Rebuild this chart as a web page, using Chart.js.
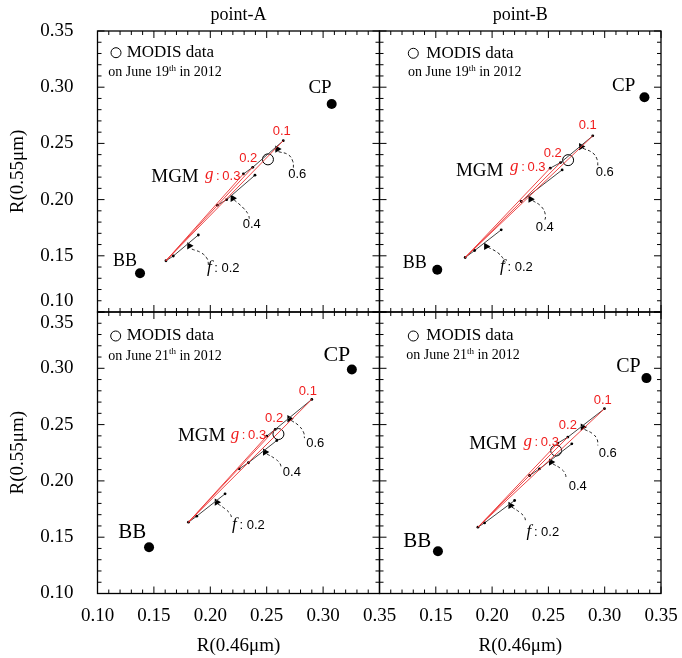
<!DOCTYPE html>
<html>
<head>
<meta charset="utf-8">
<script src="https://cdn.jsdelivr.net/npm/chart.js@4.4.1/dist/chart.umd.min.js"></script>
<style>
  html, body { margin: 0; padding: 0; background: #fff; }
  #wrap { position: relative; width: 682px; height: 658px; }
  #wrap canvas { position: absolute; left: 0; top: 0; width: 682px; height: 658px; }
</style>
</head>
<body>
<div id="wrap">
  <canvas id="p0" width="682" height="658"></canvas>
  <canvas id="p1" width="682" height="658"></canvas>
  <canvas id="p2" width="682" height="658"></canvas>
  <canvas id="p3" width="682" height="658"></canvas>
</div>
<script>
// panels: 0 = point-A 19th, 1 = point-B 19th, 2 = point-A 21th, 3 = point-B 21th
const panelNames = ['point-A', 'point-B', 'point-A', 'point-B'];
const obsDays = ['19', '19', '21', '21'];
const axisTicks = [0.10, 0.15, 0.20, 0.25, 0.30, 0.35];

const bbPoints = [[0.1377, 0.1344], [0.1513, 0.1376], [0.1457, 0.1411], [0.1519, 0.1376]];
const cpPoints = [[0.3076, 0.2851], [0.3353, 0.2911], [0.3255, 0.2990], [0.3371, 0.2913]];
const modisPoints = [[0.2511, 0.2358], [0.2675, 0.2351], [0.2604, 0.2416], [0.2569, 0.2270]];

// MGM model lines: red = constant g, start point shared
const mgmStart = [[0.1607, 0.1456], [0.1761, 0.1485], [0.1806, 0.1633], [0.1874, 0.1589]];
const gEnd01 = [[0.2647, 0.2524], [0.2894, 0.2567], [0.2900, 0.2724], [0.2998, 0.2641]];
const gEnd02 = [[0.2376, 0.2287], [0.2608, 0.2329], [0.2575, 0.2457], [0.2673, 0.2389]];
const gEnd03 = [[0.2293, 0.2228], [0.2516, 0.2280], [0.2501, 0.2398], [0.2584, 0.2336]];

// grey segments (constant f)
const fLineMid = [
  [[0.2062, 0.1950], [0.2145, 0.1999], [0.2396, 0.2217]],
  [[0.2258, 0.1983], [0.2622, 0.2264]],
  [[0.2256, 0.2107], [0.2338, 0.2161], [0.2590, 0.2359]],
  [[0.2333, 0.2048], [0.2421, 0.2107], [0.2708, 0.2329]]
];
const fLineLow = [
  [[0.1607, 0.1456], [0.1672, 0.1498], [0.1894, 0.1685]],
  [[0.1761, 0.1485], [0.1845, 0.1547], [0.2081, 0.1731]],
  [[0.1806, 0.1633], [0.1880, 0.1687], [0.2131, 0.1885]],
  [[0.1874, 0.1589], [0.1933, 0.1627], [0.2200, 0.1826]]
];

// arrow heads for f: 0.2, 0.4, 0.6
const fArrows = [
  [[0.1814, 0.1589], [0.2199, 0.2012], [0.2595, 0.2450]],
  [[0.1948, 0.1583], [0.2342, 0.2004], [0.2791, 0.2472]],
  [[0.2058, 0.1811], [0.2486, 0.2256], [0.2702, 0.2552]],
  [[0.2164, 0.1782], [0.2524, 0.2167], [0.2806, 0.2478]]
];
const dashF02 = [
  [[0.1836, 0.1560], [0.1924, 0.1524], [0.1974, 0.1471], [0.1983, 0.1425]],
  [[0.1963, 0.1577], [0.2051, 0.1527], [0.2105, 0.1467], [0.2116, 0.1440]],
  [[0.2067, 0.1796], [0.2131, 0.1752], [0.2176, 0.1707], [0.2191, 0.1665]],
  [[0.2176, 0.1767], [0.2244, 0.1722], [0.2288, 0.1678], [0.2297, 0.1640]]
];
const dashF04 = [
  [[0.2211, 0.1998], [0.2294, 0.1924], [0.2338, 0.1864], [0.2347, 0.1820]],
  [[0.2360, 0.1992], [0.2437, 0.1938], [0.2473, 0.1865], [0.2467, 0.1805]],
  [[0.2501, 0.2240], [0.2575, 0.2196], [0.2619, 0.2152], [0.2628, 0.2107]],
  [[0.2539, 0.2152], [0.2613, 0.2107], [0.2649, 0.2063], [0.2658, 0.2013]]
];
const dashF06 = [
  [[0.2604, 0.2427], [0.2693, 0.2398], [0.2732, 0.2338], [0.2737, 0.2279]],
  [[0.2806, 0.2457], [0.2894, 0.2415], [0.2933, 0.2356], [0.2939, 0.2302]],
  [[0.2717, 0.2537], [0.2782, 0.2493], [0.2826, 0.2433], [0.2835, 0.2380]],
  [[0.2821, 0.2457], [0.2894, 0.2418], [0.2933, 0.2368], [0.2939, 0.2315]]
];

// ---- layout (page pixels) and label placement ----
const panelBox = [
  { l: 97.5, t: 31, r: 379.5, b: 312 },
  { l: 379.5, t: 31, r: 661, b: 312 },
  { l: 97.5, t: 312, r: 379.5, b: 593.5 },
  { l: 379.5, t: 312, r: 661, b: 593.5 }
];
const noteSpots = [
  { g1: [0.2633, 0.2604], g2: [0.2337, 0.2367], g3: [0.2110, 0.2210], mgm: [0.1687, 0.2204],
    f6: [0.2771, 0.2228], f4: [0.2367, 0.1783], f2: [0.2115, 0.1389], cp: [0.2973, 0.2990], bb: [0.1244, 0.1447] },
  { g1: [0.2850, 0.2658], g2: [0.2539, 0.2415], g3: [0.2317, 0.2288], mgm: [0.1890, 0.2258],
    f6: [0.3000, 0.2244], f4: [0.2467, 0.1749], f2: [0.2216, 0.1399], cp: [0.3168, 0.3014], bb: [0.1313, 0.1435] },
  { g1: [0.2865, 0.2795], g2: [0.2566, 0.2558], g3: [0.2338, 0.2404], mgm: [0.1924, 0.2398],
    f6: [0.2930, 0.2329], f4: [0.2723, 0.2072], f2: [0.2338, 0.1604], cp: [0.3122, 0.3120], bb: [0.1309, 0.1538] },
  { g1: [0.2983, 0.2715], g2: [0.2673, 0.2493], g3: [0.2436, 0.2344], mgm: [0.2007, 0.2329],
    f6: [0.3027, 0.2240], f4: [0.2761, 0.1953], f2: [0.2451, 0.1544], cp: [0.3211, 0.3017], bb: [0.1335, 0.1464] }
];
const cpSize = [19, 19, 22, 20];
const bbSize = [18, 18, 21, 21];
const legendSpot = [
  { cx: 18.5, cy: 21.7, tx: 29.2, lx: 10.8, ly: 41.7 },
  { cx: 33.8, cy: 22.3, tx: 46.8, lx: 28.5, ly: 41.7 },
  { cx: 18.2, cy: 24, tx: 29.2, lx: 10.8, ly: 44 },
  { cx: 33.8, cy: 24, tx: 46.8, lx: 26.8, ly: 43.3 }
];

const serif = '"Liberation Serif", "Times New Roman", serif';
const sans = '"Liberation Sans", Arial, sans-serif';
const redLine = 'rgba(236, 50, 50, 0.9)';
const redText = '#f01c1c';

const toXY = pts => pts.map(p => ({ x: p[0], y: p[1] }));

function drawParts(ctx, parts, x, y, align) {
  let total = 0;
  parts.forEach(p => { ctx.font = p.font; p.w = ctx.measureText(p.t).width; total += p.w; });
  let cx = align === 'center' ? x - total / 2 : (align === 'right' ? x - total : x);
  ctx.textAlign = 'left';
  ctx.textBaseline = 'middle';
  parts.forEach(p => {
    ctx.font = p.font;
    ctx.fillStyle = p.color || '#000';
    ctx.fillText(p.t, cx, y + (p.dy || 0));
    cx += p.w;
  });
}

const frameTicks = {
  id: 'frameTicks',
  afterDatasetsDraw(chart) {
    const { ctx, chartArea: a, scales: { x, y } } = chart;
    ctx.save();
    ctx.strokeStyle = '#000';
    ctx.lineWidth = 1;
    ctx.beginPath();
    for (let k = 10; k <= 35; k++) {
      const len = k % 5 === 0 ? 7 : 4;
      const px = x.getPixelForValue(k / 100);
      const py = y.getPixelForValue(k / 100);
      ctx.moveTo(px, a.bottom); ctx.lineTo(px, a.bottom - len);
      ctx.moveTo(px, a.top); ctx.lineTo(px, a.top + len);
      ctx.moveTo(a.left, py); ctx.lineTo(a.left + len, py);
      ctx.moveTo(a.right, py); ctx.lineTo(a.right - len, py);
    }
    ctx.stroke();
    ctx.lineWidth = 1.3;
    ctx.strokeRect(a.left, a.top, a.right - a.left, a.bottom - a.top);
    ctx.restore();
  }
};

const panelText = {
  id: 'panelText',
  afterDraw(chart) {
    const i = chart.options.plugins.panelText.index;
    const { ctx, chartArea: a, scales: { x, y } } = chart;
    const at = p => [x.getPixelForValue(p[0]), y.getPixelForValue(p[1])];
    const n = noteSpots[i];
    ctx.save();
    if (i < 2) {
      drawParts(ctx, [{ t: panelNames[i], font: '18px ' + serif }], (a.left + a.right) / 2, 15, 'center');
    }
    // legend
    const lg = legendSpot[i];
    ctx.beginPath();
    ctx.arc(a.left + lg.cx, a.top + lg.cy, 5, 0, Math.PI * 2);
    ctx.fillStyle = '#fff'; ctx.fill();
    ctx.strokeStyle = '#000'; ctx.lineWidth = 1; ctx.stroke();
    drawParts(ctx, [{ t: 'MODIS data', font: '17px ' + serif }], a.left + lg.tx, a.top + lg.cy, 'left');
    drawParts(ctx, [
      { t: 'on June ' + obsDays[i], font: '14px ' + serif },
      { t: 'th', font: '9px ' + serif, dy: -4 },
      { t: ' in 2012', font: '14px ' + serif }
    ], a.left + lg.lx, a.top + lg.ly, 'left');
    // annotations
    let p = at(n.cp); drawParts(ctx, [{ t: 'CP', font: cpSize[i] + 'px ' + serif }], p[0], p[1], 'center');
    p = at(n.bb); drawParts(ctx, [{ t: 'BB', font: bbSize[i] + 'px ' + serif }], p[0], p[1], 'center');
    p = at(n.mgm); drawParts(ctx, [{ t: 'MGM', font: '19px ' + serif }], p[0], p[1], 'center');
    p = at(n.g1); drawParts(ctx, [{ t: '0.1', font: '13px ' + sans, color: redText }], p[0], p[1], 'center');
    p = at(n.g2); drawParts(ctx, [{ t: '0.2', font: '13px ' + sans, color: redText }], p[0], p[1], 'center');
    p = at(n.g3); drawParts(ctx, [
      { t: 'g', font: 'italic 17px ' + serif, color: redText, dy: -1 },
      { t: '\u2009:\u20090.3', font: '13px ' + sans, color: redText }
    ], p[0], p[1], 'center');
    p = at(n.f6); drawParts(ctx, [{ t: '0.6', font: '13px ' + sans }], p[0], p[1], 'center');
    p = at(n.f4); drawParts(ctx, [{ t: '0.4', font: '13px ' + sans }], p[0], p[1], 'center');
    p = at(n.f2); drawParts(ctx, [
      { t: 'f', font: 'italic 17px ' + serif, dy: -1 },
      { t: '\u2009: 0.2', font: '13px ' + sans }
    ], p[0], p[1], 'center');
    ctx.restore();
  }
};

function yLabel(v, row) {
  const s = Number(v).toFixed(2);
  if (row === 0 && s === '0.10') return [s, ''];
  if (row === 1 && s === '0.35') return ['', s];
  return s;
}
function xLabel(v, col) {
  const s = Number(v).toFixed(2);
  if (col === 1 && s === '0.10') return '';
  return s;
}

function makePanel(i) {
  const box = panelBox[i];
  const row = i < 2 ? 0 : 1;
  const col = i % 2;
  const showY = col === 0;
  const showX = row === 1;
  const lineSet = (pts, color, extra) => Object.assign({
    data: toXY(pts), showLine: true, borderColor: color, borderWidth: 1,
    pointRadius: 0, fill: false
  }, extra || {});
  const dotted = { pointRadius: 1.4, pointBackgroundColor: '#000', pointBorderWidth: 0 };
  const dashed = { borderDash: [3, 2.5], tension: 0.45 };

  const datasets = [
    lineSet([mgmStart[i], gEnd03[i]], redLine),
    lineSet([mgmStart[i], gEnd02[i]], redLine),
    lineSet([mgmStart[i], gEnd01[i]], redLine),
    lineSet([gEnd03[i], gEnd02[i], gEnd01[i]], '#444', dotted),
    lineSet(fLineMid[i], '#444', dotted),
    lineSet(fLineLow[i], '#444', dotted),
    lineSet(dashF02[i], '#222', dashed),
    lineSet(dashF04[i], '#222', dashed),
    lineSet(dashF06[i], '#222', dashed),
    {
      data: toXY(fArrows[i]), pointStyle: 'triangle', rotation: -30, pointRadius: 4.2,
      backgroundColor: '#000', borderColor: '#000', borderWidth: 0
    },
    {
      data: toXY([bbPoints[i], cpPoints[i]]), pointRadius: 5,
      backgroundColor: '#000', borderColor: '#000', borderWidth: 0
    },
    {
      data: toXY([modisPoints[i]]), pointRadius: 5.5,
      backgroundColor: '#fff', borderColor: '#000', borderWidth: 1
    }
  ];

  return new Chart(document.getElementById('p' + i), {
    type: 'scatter',
    data: { datasets },
    options: {
      responsive: false,
      animation: false,
      events: [],
      layout: {
        padding: {
          left: showY ? 0 : box.l,
          top: box.t,
          right: 682 - box.r,
          bottom: showX ? 0 : 658 - box.b
        }
      },
      plugins: { legend: { display: false }, tooltip: { enabled: false }, title: { display: false },
        panelText: { index: i } },
      scales: {
        x: {
          type: 'linear', min: 0.10, max: 0.35, display: showX,
          grid: { display: false, drawTicks: false }, border: { display: false },
          afterBuildTicks: s => { s.ticks = axisTicks.map(v => ({ value: v })); },
          ticks: { autoSkip: false, maxRotation: 0, padding: 11, color: '#000',
            font: { family: serif, size: 19 }, callback: v => xLabel(v, col) },
          title: { display: true, text: 'R(0.46μm)', color: '#000',
            font: { family: serif, size: 19 }, padding: { top: 0, bottom: 1 } },
          afterFit: s => {
            if (!showX) return;
            s.height = 658 - box.b; s.paddingLeft = 0; s.paddingRight = 0;
          }
        },
        y: {
          type: 'linear', min: 0.10, max: 0.35, display: showY,
          grid: { display: false, drawTicks: false }, border: { display: false },
          afterBuildTicks: s => { s.ticks = axisTicks.map(v => ({ value: v })); },
          ticks: { autoSkip: false, padding: 24, color: '#000',
            font: { family: serif, size: 19 }, callback: v => yLabel(v, row) },
          title: { display: true, text: 'R(0.55μm)', color: '#000',
            font: { family: serif, size: 19 }, padding: { top: 7, bottom: 0 } },
          afterFit: s => {
            if (!showY) return;
            s.width = box.l; s.paddingTop = 0; s.paddingBottom = 0;
          }
        }
      }
    },
    plugins: [frameTicks, panelText]
  });
}

for (let i = 0; i < 4; i++) makePanel(i);
</script>
</body>
</html>
